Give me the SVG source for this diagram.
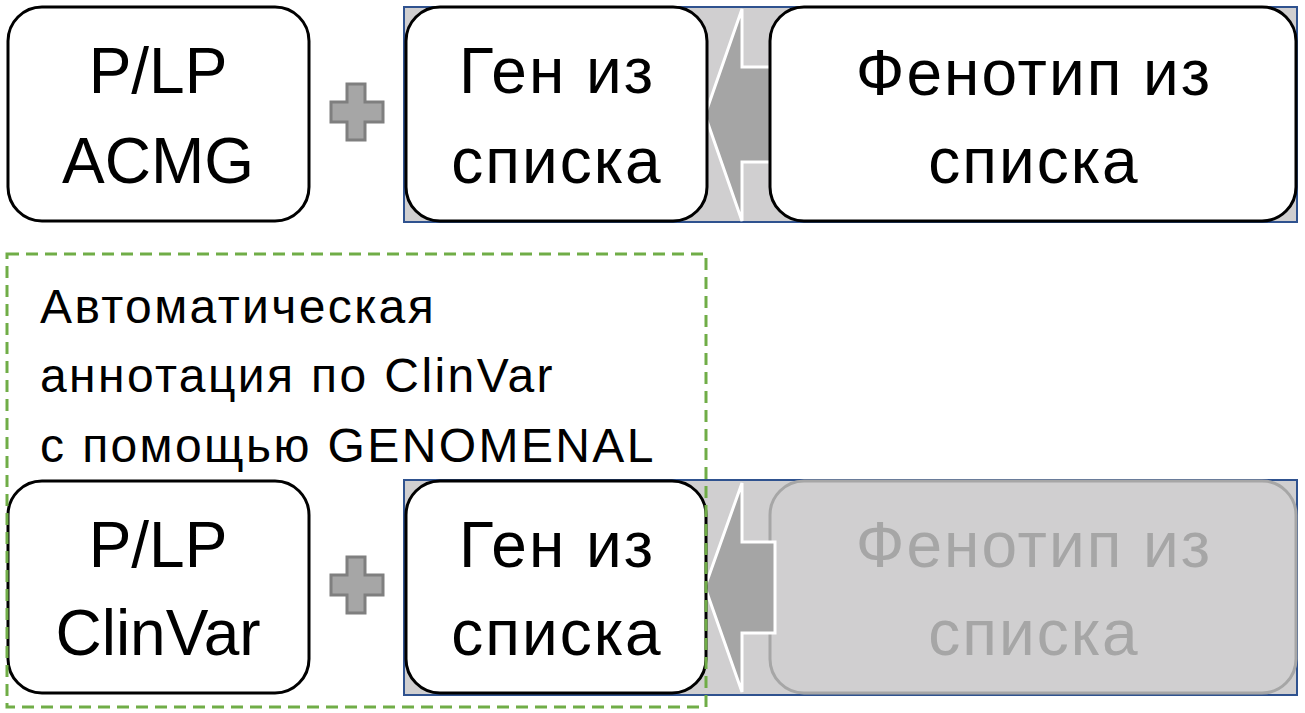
<svg xmlns="http://www.w3.org/2000/svg" width="1305" height="713" viewBox="0 0 1305 713">
<style>
.box{fill:#ffffff;stroke:#000000;stroke-width:3}
.dim{fill:#d0cfd0;stroke:#a6a6a6;stroke-width:3}
.panel{fill:#d0cfd0;stroke:#2f528f;stroke-width:2}
.plus{fill:#a6a6a6;stroke:#7f7f7f;stroke-width:3}
.arrow{fill:#a5a5a5;stroke:#ffffff;stroke-width:3;stroke-linejoin:miter}
.big{font-family:"Liberation Sans",Arial,sans-serif;font-size:64px;text-anchor:middle;fill:#000000}
.cy{letter-spacing:2px}
.big.grey{fill:#a6a6a6}
.note{font-family:"Liberation Sans",Arial,sans-serif;font-size:48px;fill:#000000;letter-spacing:2.4px}
.group{fill:none;stroke:#70ad47;stroke-width:3;stroke-dasharray:12 7}
</style>
<g id="connectors">
  <rect class="panel" x="404" y="7" width="893" height="215"/>
  <rect class="panel" x="404" y="480" width="893" height="215"/>
  <path class="arrow" d="M705,115 L742,9 L742,67 L775,67 L775,162 L742,162 L742,221 Z"/>
  <polygon class="plus" points="347,84 365,84 365,102 383,102 383,122 365,122 365,140 347,140 347,122 331,122 331,102 347,102"/>
  <polygon class="plus" points="347,557 365,557 365,575 383,575 383,595 365,595 365,613 347,613 347,595 331,595 331,575 347,575"/>
</g>
<g id="node-plp-acmg">
  <rect class="box" x="8" y="7" width="301" height="214" rx="34"/>
  <text class="big" x="158" y="93">P/LP</text>
  <text class="big" x="158" y="183">ACMG</text>
</g>
<g id="node-gene-top">
  <rect class="box" x="406" y="7" width="301" height="214" rx="34"/>
  <text class="big cy" x="557" y="93">Ген из</text>
  <text class="big cy" x="557" y="183">списка</text>
</g>
<g id="node-phenotype-top">
  <rect class="box" x="770" y="7" width="526" height="214" rx="34"/>
  <text class="big cy" x="1034" y="95">Фенотип из</text>
  <text class="big cy" x="1034" y="183">списка</text>
</g>
<g id="node-phenotype-bottom">
  <rect class="dim" x="770" y="481" width="526" height="212" rx="34"/>
  <text class="big cy grey" x="1034" y="567">Фенотип из</text>
  <text class="big cy grey" x="1034" y="655">списка</text>
</g>
<g id="connector-bottom-arrow">
  <path class="arrow" d="M705,587 L742,483 L742,542 L775,542 L775,633 L742,633 L742,692 Z"/>
</g>
<g id="node-plp-clinvar">
  <rect class="box" x="8" y="481" width="301" height="212" rx="34"/>
  <text class="big" x="158" y="567">P/LP</text>
  <text class="big" x="158" y="655">ClinVar</text>
</g>
<g id="node-gene-bottom">
  <rect class="box" x="406" y="481" width="300" height="212" rx="34"/>
  <text class="big cy" x="557" y="567">Ген из</text>
  <text class="big cy" x="557" y="655">списка</text>
</g>
<g id="group-clinvar">
  <rect class="group" x="7" y="254" width="699" height="453"/>
  <text class="note" x="40" y="323">Автоматическая</text>
  <text class="note" x="40" y="392">аннотация по ClinVar</text>
  <text class="note" x="40" y="462">с помощью GENOMENAL</text>
</g>
</svg>
